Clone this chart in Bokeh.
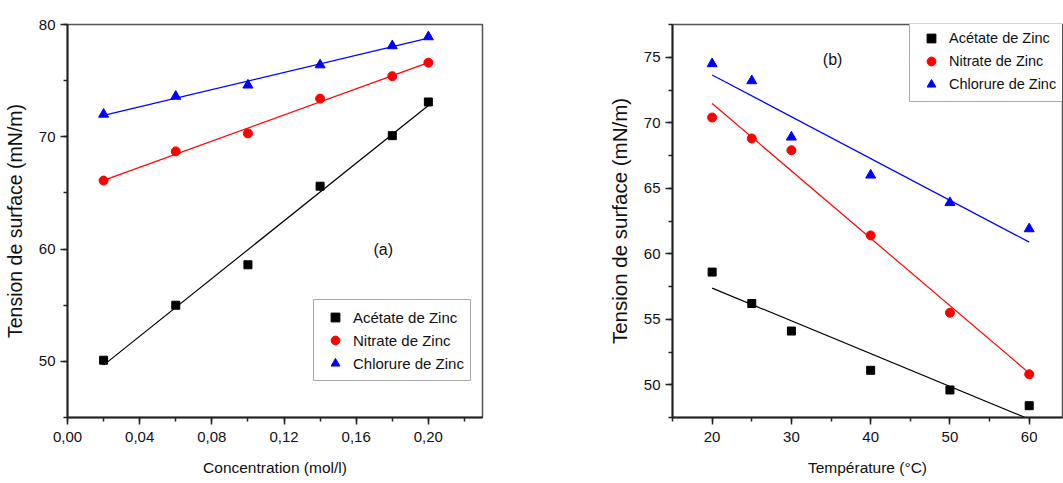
import numpy as np
from bokeh.plotting import figure
from bokeh.models import (Legend, LegendItem, Label, SingleIntervalTicker,
                          CustomJSTickFormatter, Range1d)
from bokeh.layouts import row
from bokeh.embed import file_html
from bokeh.resources import INLINE

# ---------------- data ----------------
conc = [0.02, 0.06, 0.10, 0.14, 0.18, 0.20]
acetate_a = [50.1, 55.0, 58.6, 65.6, 70.1, 73.1]
nitrate_a = [66.1, 68.7, 70.3, 73.4, 75.4, 76.6]
chlorure_a = [72.0, 73.6, 74.6, 76.4, 78.1, 78.9]

temp = [20, 25, 30, 40, 50, 60]
acetate_b = [58.6, 56.2, 54.1, 51.1, 49.6, 48.4]
nitrate_b = [70.4, 68.8, 67.9, 61.4, 55.5, 50.8]
chlorure_b = [74.5, 73.2, 68.9, 66.0, 63.9, 61.9]

series_names = ["Acétate de Zinc", "Nitrate de Zinc", "Chlorure de Zinc"]
colors = ["#000000", "#ff0000", "#0000ff"]
markers = ["square", "circle", "triangle"]
sizes = [8, 9, 10]

FONT = "Liberation Sans"


def style(p, xlabel, ylabel, ylabel_size):
    p.xgrid.visible = False
    p.ygrid.visible = False
    p.outline_line_color = "#555555"
    p.outline_line_width = 1.5
    p.background_fill_color = "white"
    p.border_fill_color = "white"
    for ax in (p.xaxis[0], p.yaxis[0]):
        ax.axis_line_width = 2
        ax.axis_line_color = "#222222"
        ax.major_tick_line_width = 1.5
        ax.minor_tick_line_width = 1.5
        ax.major_tick_line_color = "#222222"
        ax.minor_tick_line_color = "#222222"
        ax.major_tick_in = 0
        ax.major_tick_out = 7
        ax.minor_tick_in = 0
        ax.minor_tick_out = 4
        ax.major_label_text_font = FONT
        ax.major_label_text_font_size = "15px"
        ax.major_label_text_color = "#111111"
        ax.axis_label_text_font_style = "normal"
        ax.axis_label_text_color = "#111111"
    p.xaxis[0].axis_label = xlabel
    p.xaxis[0].axis_label_text_font = FONT
    p.xaxis[0].axis_label_text_font_size = "15.5px"
    p.xaxis[0].major_label_standoff = 7
    p.xaxis[0].axis_label_standoff = 14
    p.yaxis[0].axis_label = ylabel
    p.yaxis[0].axis_label_text_font = FONT
    p.yaxis[0].axis_label_text_font_size = ylabel_size
    p.yaxis[0].major_label_standoff = 5
    p.yaxis[0].axis_label_standoff = 10


def add_series(p, x, ys, fit_x):
    items = []
    for name, y, c, m, s in zip(series_names, ys, colors, markers, sizes):
        k, b = np.polyfit(np.array(x, float), np.array(y, float), 1)
        fx = np.array(fit_x, float)
        p.line(fx, k * fx + b, line_color=c, line_width=1.2)
        r = p.scatter(x, y, marker=m, size=s, fill_color=c, line_color=c)
        items.append(LegendItem(label=name, renderers=[r]))
    return items


def add_legend(p, items, loc, font_size):
    leg = Legend(items=items, location=loc, orientation="vertical",
                 border_line_color="#555555", border_line_width=1.5,
                 background_fill_alpha=1.0, padding=6, margin=0,
                 spacing=1, glyph_width=30, glyph_height=22,
                 label_height=22, label_standoff=3,
                 label_text_font=FONT, label_text_font_size=font_size,
                 label_text_color="#111111")
    p.add_layout(leg)


# ---------------- panel (a) ----------------
p1 = figure(width=560, height=483, output_backend="svg", toolbar_location=None,
            x_range=Range1d(0, 0.23), y_range=Range1d(45, 80),
            min_border_left=66, min_border_right=78,
            min_border_top=19, min_border_bottom=66)
style(p1, "Concentration (mol/l)", "Tension de surface (mN/m)", "19.5px")
p1.xaxis[0].ticker = SingleIntervalTicker(interval=0.04, num_minor_ticks=2)
p1.xaxis[0].formatter = CustomJSTickFormatter(
    code="return tick.toFixed(2).replace('.', ',');")
p1.yaxis[0].ticker = SingleIntervalTicker(interval=10, num_minor_ticks=2)
items1 = add_series(p1, conc, [acetate_a, nitrate_a, chlorure_a],
                    [conc[0], conc[-1]])
add_legend(p1, items1, (246, 36), "15px")
p1.add_layout(Label(x=0.175, y=60, text="(a)", text_align="center",
                    text_baseline="middle", text_font=FONT,
                    text_font_size="16px", text_color="#111111"))

# ---------------- panel (b) ----------------
p2 = figure(width=503, height=483, output_backend="svg", toolbar_location=None,
            x_range=Range1d(15, 64.2), y_range=Range1d(47.5, 77.5),
            min_border_left=112, min_border_right=1,
            min_border_top=24, min_border_bottom=65)
style(p2, "Température (°C)", "Tension de surface (mN/m)", "20.5px")
p2.xaxis[0].ticker = SingleIntervalTicker(interval=10, num_minor_ticks=2)
p2.yaxis[0].ticker = SingleIntervalTicker(interval=5, num_minor_ticks=2)
items2 = add_series(p2, temp, [acetate_b, nitrate_b, chlorure_b],
                    [temp[0], temp[-1]])
add_legend(p2, items2, (237, 315), "14.5px")
p2.add_layout(Label(x=35.2, y=74.8, text="(b)", text_align="center",
                    text_baseline="middle", text_font=FONT,
                    text_font_size="16px", text_color="#111111"))

layout = row(p1, p2)
open("out.html", "w").write(file_html(layout, INLINE))
